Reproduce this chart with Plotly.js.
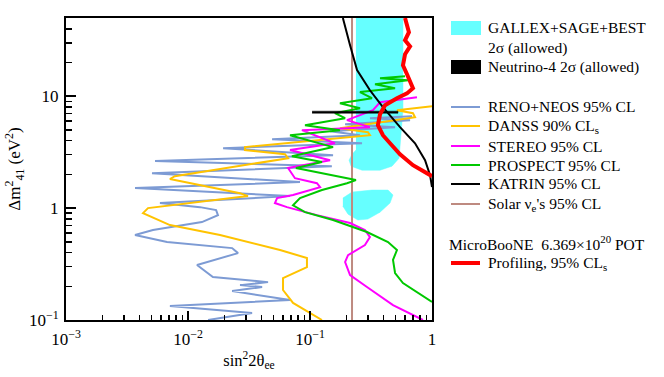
<!DOCTYPE html>
<html>
<head>
<meta charset="utf-8">
<script src="https://cdn.plot.ly/plotly-3.0.1.min.js"></script>
<style>
  body { margin: 0; background: #fff; }
  #graph { width: 664px; height: 377px; }
</style>
</head>
<body>
<div id="graph"></div>
<script>
// values (sin^2 2theta_ee, dm^2_41 in eV^2)
var renoX = [0.0146,0.0335,0.00711,0.0686,0.0230,0.0405,0.0267,0.0453,0.0160,0.01186,0.0257,0.0230,0.00673,0.00368,0.00516,0.0130,0.0176,0.0170,0.01253,0.00589,0.0686,0.00368,0.0828,0.00507,0.151,0.00537,0.1545,0.0194,0.267,0.0489,0.257,0.146,0.498,0.194,0.661,0.310,0.686];
var renoY = [0.1,0.1155,0.1334,0.151,0.1815,0.197,0.205,0.218,0.242,0.310,0.396,0.439,0.497,0.574,0.637,0.750,0.866,0.96,1.02,1.11,1.28,1.51,1.71,2.05,2.37,2.63,2.97,3.43,3.80,4.13,4.48,4.87,5.29,5.62,6.11,6.36,6.63];

var danssX = [0.1253,0.0726,0.0601,0.0601,0.0944,0.0944,0.0568,0.0183,0.00711,0.00428,0.0047,0.031,0.0267,0.00711,0.00781,0.0661,0.0624,0.0293,0.0293,0.310,0.2985,0.176,0.726,0.698,0.516,1.0];
var danssY = [0.1,0.142,0.1854,0.237,0.297,0.358,0.422,0.574,0.705,0.902,1.0,1.28,1.36,1.82,1.93,2.79,3.03,3.30,3.51,4.48,4.77,5.18,6.49,7.05,7.50,8.14];

var stereoX = [0.843,0.698,0.479,0.293,0.213,0.194,0.205,0.282,0.310,0.282,0.213,0.114,0.0647,0.0516,0.0537,0.0726,0.121,0.114,0.0753,0.0661,0.146,0.0686,0.160,0.0859,0.310,0.201,0.328,0.375,0.753];
var stereoY = [0.1,0.111,0.136,0.197,0.252,0.330,0.380,0.468,0.551,0.637,0.735,0.866,1.02,1.11,1.23,1.31,1.54,1.67,1.85,2.28,2.68,3.30,3.80,4.97,5.29,6.11,7.50,8.83,9.8];

var prospX = [1.0,0.578,0.498,0.479,0.516,0.436,0.293,0.1545,0.091,0.0726,0.0828,0.1253,0.201,0.238,0.0767,0.1253,0.0711,0.1545,0.0686,0.176,0.091,0.194,0.160,0.257,0.176,0.322,0.257,0.498,0.341,0.635,0.375,0.601];
var prospY = [0.145,0.214,0.263,0.344,0.422,0.497,0.611,0.782,0.92,1.06,1.23,1.45,1.67,1.78,2.28,2.58,2.91,3.51,4.48,4.97,5.51,6.36,7.05,7.81,8.66,9.60,10.9,11.8,12.8,13.9,14.5,15.1];

var katX = [0.186,0.197,0.213,0.243,0.310,0.396,0.547,0.726,0.877,0.964,1.0];
var katY = [50,38.8,28.5,17.1,11.3,7.98,5.29,3.80,2.68,1.97,1.54];

var solarX = [0.221,0.221];
var solarY = [0.1,50];

var nu4X = [0.104,0.526,0.526,0.104];
var nu4Y = [7.05,7.05,7.35,7.35];

var galUpX = [0.238,0.578,0.578,0.557,0.537,0.470,0.375,0.267,0.217,0.209,0.221,0.238];
var galUpY = [50,50,7.5,4.05,2.79,2.37,2.18,2.18,2.37,2.68,3.03,3.30];
var galLoX = [0.186,0.221,0.322,0.436,0.479,0.453,0.375,0.2985,0.247,0.205,0.186];
var galLoY = [1.23,1.39,1.45,1.45,1.31,1.11,0.92,0.798,0.782,0.883,1.04];

var mbX = [0.601,0.624,0.647,0.601,0.661,0.601,0.578,0.624,0.698,0.624,0.516,0.412,0.375,0.360,0.396,0.453,0.547,0.698,0.927,1.0];
var mbY = [50,44.0,37.3,31.6,27.9,23.7,18.9,15.7,11.8,10.6,9.60,8.31,6.90,5.51,4.48,3.80,3.03,2.42,2.05,1.93];

var xTickVals = [0.001,0.01,0.1,1];
var xTickText = ['10<sup>\u22123</sup>','10<sup>\u22122</sup>','10<sup>\u22121</sup>','1'];
var yTickVals = [0.1,1,10];
var yTickText = ['10<sup>\u22121</sup>','1','10'];

var cCyan = 'rgb(102,255,255)';
var cReno = 'rgb(125,155,212)';
var cDanss = 'rgb(255,195,0)';
var cStereo = 'rgb(255,0,255)';
var cProsp = 'rgb(0,200,0)';
var cKat = 'rgb(0,0,0)';
var cSolar = 'rgb(190,138,128)';
var cMb = 'rgb(255,0,0)';

var serif = 'Liberation Serif, Times New Roman, serif';

var xMinor = [];
for (var e = -3; e < 0; e++) for (var k = 2; k < 10; k++) xMinor.push(k * Math.pow(10, e));
var yMinor = [];
for (var e2 = -1; e2 < 2; e2++) for (var k2 = 2; k2 < 10; k2++) {
  var v = k2 * Math.pow(10, e2);
  if (v < 50) yMinor.push(v);
}

function fillTrace(x, y, col) {
  return {x: x, y: y, type: 'scatter', mode: 'lines', fill: 'toself', fillcolor: col,
          line: {color: col, width: 0.5}, hoverinfo: 'skip', showlegend: false};
}
function lineTrace(x, y, col, w) {
  return {x: x, y: y, type: 'scatter', mode: 'lines', line: {color: col, width: w},
          hoverinfo: 'skip', showlegend: false};
}

var data = [
  fillTrace(galUpX, galUpY, cCyan),
  fillTrace(galLoX, galLoY, cCyan),
  lineTrace(solarX, solarY, cSolar, 2),
  lineTrace(renoX, renoY, cReno, 2),
  lineTrace(danssX, danssY, cDanss, 2),
  lineTrace(stereoX, stereoY, cStereo, 2),
  lineTrace(prospX, prospY, cProsp, 2),
  fillTrace(nu4X, nu4Y, 'rgb(0,0,0)'),
  lineTrace(katX, katY, cKat, 2),
  lineTrace(mbX, mbY, cMb, 4)
];

// legend drawn by hand, pixel positions turned into paper coords
var L = 66, R = 432, T = 18, B = 320;
function px(x) { return (x - L) / (R - L); }
function py(y) { return (B - y) / (B - T); }

var legLines = [
  {y: 107, col: cReno, w: 2, text: 'RENO+NEOS 95% CL'},
  {y: 126, col: cDanss, w: 2, text: 'DANSS 90% CL<sub>s</sub>'},
  {y: 146, col: cStereo, w: 2, text: 'STEREO 95% CL'},
  {y: 165, col: cProsp, w: 2, text: 'PROSPECT 95% CL'},
  {y: 184, col: cKat, w: 2, text: 'KATRIN 95% CL'},
  {y: 204, col: cSolar, w: 2, text: 'Solar \u03bd<sub>e</sub>\'s 95% CL'},
  {y: 263, col: cMb, w: 4, text: 'Profiling, 95% CL<sub>s</sub>'}
];
var legBoxes = [
  {y0: 21, y1: 35, col: cCyan},
  {y0: 60, y1: 74, col: 'rgb(0,0,0)'}
];
var legTexts = [
  {x: 487, y: 28, text: 'GALLEX+SAGE+BEST'},
  {x: 487, y: 48, text: '2\u03c3 (allowed)'},
  {x: 487, y: 67, text: 'Neutrino-4 2\u03c3 (allowed)'},
  {x: 448, y: 243, text: 'MicroBooNE  6.369\u00d710<sup>20</sup> POT'}
];

var shapes = [];
var annotations = [];
legLines.forEach(function (d) {
  shapes.push({type: 'line', xref: 'paper', yref: 'paper', x0: px(451), x1: px(480),
               y0: py(d.y), y1: py(d.y), line: {color: d.col, width: d.w}});
  legTexts.push({x: 487, y: d.y, text: d.text});
});
legBoxes.forEach(function (d) {
  shapes.push({type: 'rect', xref: 'paper', yref: 'paper', x0: px(451), x1: px(481),
               y0: py(d.y1), y1: py(d.y0), fillcolor: d.col, line: {width: 0}});
});
legTexts.forEach(function (d) {
  annotations.push({xref: 'paper', yref: 'paper', x: px(d.x), y: py(d.y), text: d.text,
                    showarrow: false, xanchor: 'left', yanchor: 'middle', borderpad: 0,
                    font: {family: serif, size: 15.5, color: '#000'}});
});

var layout = {
  width: 664, height: 377,
  margin: {l: 66, r: 232, t: 18, b: 57},
  paper_bgcolor: '#fff', plot_bgcolor: '#fff',
  showlegend: false,
  font: {family: serif, size: 17, color: '#000'},
  xaxis: {
    type: 'log', range: [-3, 0], tickmode: 'array', tickvals: xTickVals, ticktext: xTickText,
    ticks: 'inside', ticklen: 9, tickwidth: 1.5, tickcolor: '#000', ticklabelstandoff: 3,
    minor: {tickvals: xMinor, ticks: 'inside', ticklen: 5, tickwidth: 1.5, tickcolor: '#000'},
    showline: true, linecolor: '#000', linewidth: 2, mirror: true, showgrid: false, zeroline: false,
    tickfont: {family: serif, size: 17},
    title: {text: 'sin<sup>2</sup>2\u03b8<sub>ee</sub>', font: {family: serif, size: 16.5}, standoff: 6}
  },
  yaxis: {
    type: 'log', range: [-1, Math.log10(50)], tickmode: 'array', tickvals: yTickVals, ticktext: yTickText,
    ticks: 'inside', ticklen: 10, tickwidth: 1.5, tickcolor: '#000', ticklabelstandoff: 2,
    minor: {tickvals: yMinor, ticks: 'inside', ticklen: 6, tickwidth: 1.5, tickcolor: '#000'},
    showline: true, linecolor: '#000', linewidth: 2, mirror: true, showgrid: false, zeroline: false,
    tickfont: {family: serif, size: 17},
    title: {text: '\u0394m<sup>2</sup><sub>41</sub> (eV<sup>2</sup>)', font: {family: serif, size: 17}, standoff: 4}
  },
  shapes: shapes,
  annotations: annotations
};

Plotly.newPlot('graph', data, layout, {staticPlot: true});
</script>
</body>
</html>
